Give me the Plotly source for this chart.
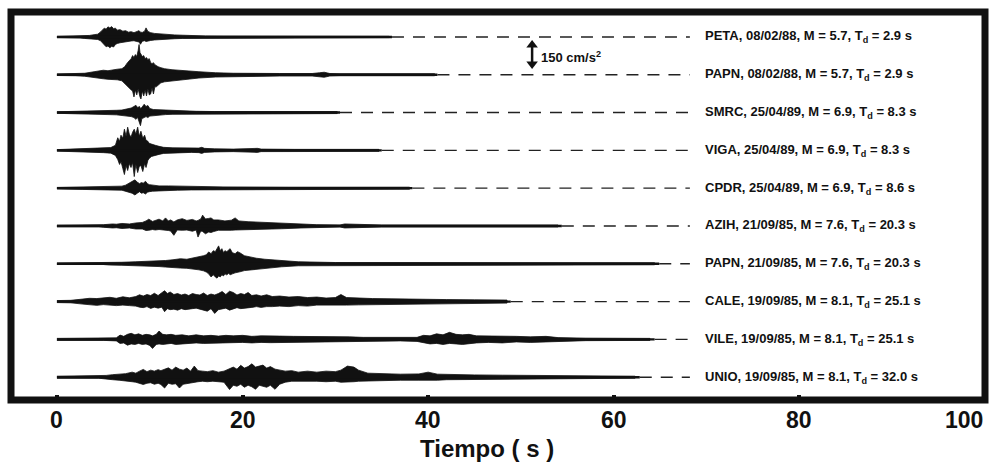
import plotly.graph_objects as go

# ---------------- data ----------------
stations = ["PETA", "PAPN", "SMRC", "VIGA", "CPDR", "AZIH", "PAPN", "CALE", "VILE", "UNIO"]
dates = ["08/02/88", "08/02/88", "25/04/89", "25/04/89", "25/04/89",
         "21/09/85", "21/09/85", "19/09/85", "19/09/85", "19/09/85"]
magnitudes = ["5.7", "5.7", "6.9", "6.9", "6.9", "7.6", "7.6", "8.1", "8.1", "8.1"]
durations = ["2.9", "2.9", "8.3", "8.3", "8.6", "20.3", "20.3", "25.1", "25.1", "32.0"]
record_end = [36.1, 41.0, 30.5, 35.0, 38.3, 54.4, 64.9, 48.9, 64.4, 62.8]  # s
dash_end = 68.2  # s
tick_values = [0, 20, 40, 60, 80, 100]
tick_labels = ["0", "20", "40", "60", "80", "100"]
scale_value = 150  # cm/s^2

# envelopes (time in s, upper / lower acceleration in cm/s^2)
peta_t = [0, 1.5, 2.5, 3.0, 3.5, 4.0, 4.4, 4.7, 4.9, 5.1, 5.3, 5.5, 5.7, 5.9, 6.1, 6.3, 6.5, 6.8, 7.1, 7.4,
          7.7, 8.0, 8.3, 8.6, 8.85, 9.0, 9.2, 9.45, 9.6, 9.8, 10.1, 10.5, 11.0, 11.5, 12.0, 12.7, 13.5, 14.5, 16, 18,
          22, 35.8]
peta_up = [4, 6, 8, 14, 12, 18, 22, 40, 58, 70, 62, 80, 72, 82, 66, 70, 54, 58, 46, 50,
           38, 42, 34, 40, 50, 38, 36, 46, 72, 44, 34, 28, 24, 20, 20, 16, 14, 10, 8, 7,
           6, 5]
peta_lo = [-4, -6, -8, -12, -14, -16, -20, -30, -44, -62, -78, -72, -86, -74, -80, -60, -52, -46, -42, -38,
           -34, -32, -30, -36, -40, -58, -34, -30, -36, -30, -28, -24, -22, -20, -16, -14, -12, -10, -8, -7,
           -6, -5]

papn88_t = [0, 2.0, 3.0, 4.0, 4.6, 5.0, 5.5, 6.0, 6.5, 7.0, 7.3, 7.6, 7.8, 8.0, 8.15, 8.3, 8.45, 8.6, 8.75, 8.85,
            8.95, 9.05, 9.2, 9.35, 9.5, 9.65, 9.8, 9.95, 10.1, 10.25, 10.4, 10.55, 10.7, 10.9, 11.2, 11.6, 12.4, 13.5,
            15.3, 17.1, 19, 24, 27.5, 28.3, 28.8, 29.4, 30.5, 40.7]
papn88_up = [6, 8, 12, 24, 28, 36, 32, 40, 44, 48, 64, 96, 112, 128, 152, 136, 160, 144, 192, 240,
             176, 160, 144, 152, 128, 136, 120, 128, 96, 88, 96, 80, 72, 64, 56, 48, 40, 36, 24, 16,
             12, 10, 10, 16, 20, 10, 8, 8]
papn88_lo = [-6, -8, -12, -24, -28, -32, -36, -40, -40, -48, -64, -96, -104, -120, -128, -176, -120, -160, -112, -144,
             -176, -192, -128, -168, -120, -168, -112, -160, -152, -104, -152, -96, -96, -88, -64, -56, -48, -40, -26, -18,
             -14, -10, -10, -16, -20, -10, -8, -8]

smrc_t = [0, 2.0, 2.8, 3.5, 4.5, 5.5, 6.4, 7.0, 7.6, 8.0, 8.3, 8.5, 8.7, 8.9, 9.0, 9.15, 9.4, 9.6, 9.8, 10.0,
          10.4, 11.0, 11.7, 12.5, 13.5, 15, 17, 20, 30.2]
smrc_up = [6, 8, 14, 12, 16, 14, 18, 20, 28, 36, 48, 58, 40, 48, 32, 40, 66, 48, 56, 32,
           24, 22, 16, 14, 10, 10, 8, 8, 8]
smrc_lo = [-6, -8, -12, -14, -14, -16, -18, -20, -28, -32, -40, -54, -40, -80, -104, -48, -40, -32, -40, -28,
           -24, -22, -16, -14, -10, -10, -8, -8, -8]

viga_t = [0, 2.1, 3.0, 4.0, 5.0, 5.8, 6.3, 6.55, 6.75, 6.9, 7.1, 7.27, 7.45, 7.62, 7.8, 7.98, 8.15, 8.33, 8.5, 8.7,
          8.87, 9.05, 9.25, 9.45, 9.6, 9.8, 9.93, 10.2, 10.6, 11.0, 11.5, 12.5, 13.5, 14.5, 15.3, 15.6, 15.9, 17, 19, 21.6,
          22, 25.6, 34.7]
viga_up = [6, 10, 14, 16, 18, 22, 40, 100, 72, 120, 96, 168, 112, 184, 128, 104, 144, 168, 128, 184,
           112, 152, 96, 120, 80, 72, 56, 48, 40, 32, 24, 20, 18, 16, 18, 24, 16, 12, 10, 16,
           10, 8, 8]
viga_lo = [-6, -10, -14, -16, -18, -22, -40, -72, -112, -88, -144, -192, -120, -160, -104, -136, -96, -208, -112, -176,
           -128, -120, -168, -104, -136, -80, -64, -48, -40, -32, -24, -20, -18, -16, -18, -24, -16, -12, -10, -16,
           -10, -8, -8]

cpdr_t = [0, 2.8, 4.0, 5.5, 7.0, 7.4, 7.8, 8.1, 8.4, 8.65, 8.9, 9.1, 9.3, 9.55, 9.75, 9.95, 10.3, 11.0, 12.0, 13.0,
          14.5, 15.6, 18, 25, 38.0]
cpdr_up = [6, 10, 14, 14, 16, 24, 40, 48, 66, 48, 36, 44, 40, 54, 36, 28, 24, 18, 18, 16,
           14, 12, 10, 8, 8]
cpdr_lo = [-6, -10, -14, -14, -16, -24, -34, -40, -54, -40, -28, -40, -36, -46, -32, -28, -24, -18, -18, -16,
           -14, -12, -10, -8, -8]

azih_t = [0, 4.5, 5.0, 6.0, 6.4, 7.0, 7.8, 8.5, 9.2, 9.6, 9.9, 10.3, 10.6, 11.0, 11.4, 11.7, 12.0, 12.25, 12.6, 12.96,
          13.5, 14.0, 14.6, 15.0, 15.2, 15.5, 15.7, 16.0, 16.35, 16.6, 16.9, 17.4, 18.1, 18.8, 19.2, 19.6, 20.6, 21.5,
          22.4, 24.2, 26.3, 28, 30.5, 31, 35, 54.0]
azih_up = [6, 6, 10, 16, 14, 20, 16, 24, 28, 40, 54, 36, 44, 54, 40, 64, 40, 48, 32, 48,
           58, 44, 52, 40, 44, 56, 86, 56, 60, 64, 48, 48, 40, 46, 64, 40, 34, 32, 28, 24,
           16, 10, 8, 16, 8, 8]
azih_lo = [-6, -6, -10, -16, -14, -20, -16, -24, -24, -36, -34, -28, -32, -28, -34, -32, -36, -40, -74, -32,
           -34, -32, -42, -32, -88, -40, -44, -62, -48, -52, -44, -34, -32, -34, -32, -32, -26, -24, -24, -22,
           -16, -10, -8, -16, -8, -8]

papn85_t = [0, 5.0, 5.7, 7.0, 8.5, 10.0, 11.0, 11.7, 12.5, 13.3, 14.0, 14.6, 15.3, 15.8, 16.1, 16.35, 16.6, 16.85,
            17.06, 17.25, 17.42, 17.6, 17.77, 17.95, 18.1, 18.3, 18.5, 18.66, 18.9, 19.2, 19.45, 19.7, 20.2, 20.8,
            21.5, 22.4, 23.2, 24.2, 26, 30, 64.4]
papn85_up = [6, 6, 10, 12, 16, 18, 22, 26, 32, 40, 36, 44, 52, 64, 72, 94, 80, 104, 96, 120,
             142, 104, 120, 88, 104, 96, 112, 120, 88, 80, 96, 88, 64, 54, 44, 36, 32, 24, 16, 10,
             8]
papn85_lo = [-6, -6, -10, -12, -16, -18, -22, -26, -32, -34, -36, -40, -48, -56, -66, -80, -104, -88, -104, -114,
             -96, -104, -88, -96, -80, -88, -76, -88, -80, -72, -66, -64, -54, -48, -40, -34, -32, -24, -16, -10,
             -8]

cale_t = [0, 1.5, 2.8, 3.5, 4.3, 5.0, 5.7, 6.4, 7.1, 7.8, 8.5, 8.9, 9.3, 9.7, 10.1, 10.5, 10.9, 11.3, 11.6, 11.9,
          12.2, 12.6, 13.0, 13.4, 13.8, 14.2, 14.6, 15.0, 15.4, 15.8, 16.2, 16.6, 17.0, 17.4, 17.8, 18.2, 18.6, 19.0,
          19.4, 19.8, 20.2, 20.6, 21.0, 21.5, 22.0, 22.6, 23.2, 24.0, 25.0, 26.0, 27.0, 28.0, 29.0, 30.0, 30.6, 31.2,
          32.5, 34, 36, 38, 42, 45, 48.5]
cale_up = [8, 10, 20, 26, 24, 30, 34, 26, 38, 30, 40, 54, 44, 56, 48, 66, 48, 70, 86, 64,
           76, 56, 64, 52, 60, 48, 64, 56, 52, 68, 48, 60, 52, 64, 80, 56, 82, 72, 52, 64,
           56, 72, 48, 54, 44, 54, 40, 44, 36, 40, 32, 36, 28, 32, 56, 32, 26, 24, 22, 18,
           16, 14, 12]
cale_lo = [-8, -10, -20, -26, -30, -24, -28, -32, -28, -32, -36, -44, -48, -40, -54, -44, -52, -44, -80, -56,
           -64, -60, -68, -56, -64, -60, -56, -52, -60, -68, -76, -56, -94, -64, -56, -52, -68, -56, -48, -56,
           -54, -48, -46, -40, -46, -40, -40, -36, -40, -32, -36, -28, -32, -28, -28, -28, -26, -24, -22, -18,
           -16, -14, -12]

vile_t = [0, 5.0, 6.4, 6.8, 7.2, 7.6, 8.0, 8.4, 8.8, 9.2, 9.6, 10.0, 10.3, 10.7, 11.0, 11.4, 11.8, 12.3, 12.8, 13.5,
          14.2, 15.0, 15.8, 16.6, 17.4, 18.2, 19.0, 20.0, 21.0, 22.0, 23.0, 24.0, 25.5, 27.0, 28.5, 30.0, 31.5, 33,
          35, 37, 38.8, 39.5, 40.2, 40.9, 41.6, 42.3, 43.0, 43.7, 44.4, 45.2, 46.5, 48, 49.5, 51, 52.7, 54, 57, 63.9]
vile_up = [8, 8, 12, 34, 24, 40, 48, 36, 44, 32, 40, 36, 28, 40, 66, 40, 36, 40, 32, 36,
           28, 36, 28, 32, 26, 32, 28, 32, 24, 28, 24, 26, 24, 24, 20, 24, 20, 16, 14, 12,
           16, 32, 28, 44, 36, 56, 40, 36, 40, 28, 28, 24, 24, 20, 24, 14, 10, 8]
vile_lo = [-8, -8, -12, -32, -28, -46, -36, -40, -32, -40, -36, -48, -72, -40, -36, -40, -36, -32, -40, -32,
           -32, -28, -32, -28, -32, -28, -26, -24, -28, -24, -26, -24, -24, -22, -24, -20, -20, -16, -14, -12,
           -16, -28, -36, -32, -40, -32, -36, -40, -32, -28, -24, -28, -20, -24, -20, -14, -10, -8]

unio_t = [0, 4.5, 5.3, 6.0, 6.7, 7.4, 8.1, 8.5, 8.9, 9.3, 9.7, 10.1, 10.5, 10.9, 11.2, 11.6, 12.0, 12.4, 12.8, 13.2,
          13.6, 14.0, 14.4, 14.8, 15.2, 15.7, 16.2, 16.8, 17.4, 18.0, 18.6, 19.0, 19.4, 19.8, 20.2, 20.6, 21.0, 21.4,
          21.8, 22.2, 22.6, 23.0, 23.5, 24.0, 24.6, 25.3, 26.0, 27.0, 28.0, 29.0, 30.0, 30.6, 31.3, 32.0, 32.5, 33.5,
          35, 37, 39, 40, 41, 42, 45, 48, 53, 62.3]
unio_up = [8, 8, 14, 20, 24, 28, 40, 32, 48, 62, 44, 56, 48, 60, 52, 64, 74, 56, 80, 64,
           56, 72, 48, 88, 52, 48, 44, 52, 40, 48, 64, 80, 64, 94, 72, 84, 106, 80, 88, 96,
           72, 84, 64, 56, 48, 52, 40, 48, 40, 48, 44, 56, 88, 80, 56, 32, 26, 24, 26, 40,
           24, 24, 18, 16, 12, 8]
unio_lo = [-8, -8, -14, -20, -24, -28, -36, -40, -48, -58, -48, -44, -56, -48, -58, -86, -48, -56, -52, -86,
           -56, -48, -44, -40, -36, -32, -36, -32, -36, -40, -98, -64, -72, -56, -80, -64, -76, -96, -64, -72,
           -80, -64, -96, -56, -40, -32, -36, -32, -32, -36, -32, -40, -40, -36, -32, -26, -26, -24, -24, -26,
           -24, -20, -18, -16, -12, -8]

env_t = [peta_t, papn88_t, smrc_t, viga_t, cpdr_t, azih_t, papn85_t, cale_t, vile_t, unio_t]
env_up = [peta_up, papn88_up, smrc_up, viga_up, cpdr_up, azih_up, papn85_up, cale_up, vile_up, unio_up]
env_lo = [peta_lo, papn88_lo, smrc_lo, viga_lo, cpdr_lo, azih_lo, papn85_lo, cale_lo, vile_lo, unio_lo]

# ---------------- layout constants ----------------
SPACING = 300.0          # cm/s^2 between trace baselines
X_RANGE = [-4.95, 100]
Y_RANGE = [-2881, 198]
INK = "#111111"
LABEL_X = 69.6
SCALE_X = 51.2
SCALE_MID = -139.0
SANS = "Liberation Sans, Arial, sans-serif"

fig = go.Figure()

for i in range(len(stations)):
    base = -SPACING * i
    t, up, lo = env_t[i], env_up[i], env_lo[i]
    n = min(len(t), len(up), len(lo))
    t, up, lo = t[:n], up[:n], lo[:n]
    xs = list(t) + list(reversed(t))
    ys = [base + u for u in up] + [base + v for v in reversed(lo)]
    fig.add_trace(go.Scatter(x=xs, y=ys, mode="lines", fill="toself", fillcolor=INK,
                             line=dict(color=INK, width=0.8), hoverinfo="skip", showlegend=False))
    fig.add_trace(go.Scatter(x=[0, record_end[i]], y=[base, base], mode="lines",
                             line=dict(color=INK, width=2.4), hoverinfo="skip", showlegend=False))
    fig.add_trace(go.Scatter(x=[record_end[i], dash_end], y=[base, base], mode="lines",
                             line=dict(color="#222222", width=1.4, dash="12px,9px"),
                             hoverinfo="skip", showlegend=False))
    fig.add_annotation(x=LABEL_X, y=base, xref="x", yref="y", xanchor="left", yanchor="middle",
                       text=f"{stations[i]}, {dates[i]}, M = {magnitudes[i]}, T<sub>d</sub> = {durations[i]} s",
                       showarrow=False, font=dict(family=SANS, size=13, color=INK, weight="bold"))

# scale bar
fig.add_trace(go.Scatter(x=[SCALE_X, SCALE_X], y=[SCALE_MID - scale_value / 2, SCALE_MID + scale_value / 2],
                         mode="lines+markers", line=dict(color=INK, width=2.5),
                         marker=dict(symbol=["triangle-down", "triangle-up"], size=10, color=INK),
                         hoverinfo="skip", showlegend=False))
fig.add_annotation(x=SCALE_X + 0.7, y=SCALE_MID - 18, xref="x", yref="y", xanchor="left", yanchor="middle",
                   text=f"{scale_value} cm/s<sup>2</sup>", showarrow=False,
                   font=dict(family=SANS, size=13, color=INK, weight="bold"))

# tick labels
for v, lab in zip(tick_values, tick_labels):
    fig.add_annotation(x=v, y=0, xref="x", yref="paper", yanchor="top",
                       xanchor="right" if v == tick_values[-1] else "center",
                       yshift=-5, text=lab, showarrow=False,
                       font=dict(family=SANS, size=23, color=INK, weight="bold"))

fig.add_annotation(x=46.3, y=0, xref="x", yref="paper", yanchor="top", yshift=-33,
                   text="Tiempo ( s )", showarrow=False,
                   font=dict(family=SANS, size=24, color=INK, weight="bold"))

# frame
fig.add_shape(type="rect", xref="paper", yref="paper", x0=0, x1=1, y0=0, y1=1,
              line=dict(color=INK, width=7))

fig.update_xaxes(range=X_RANGE, tickvals=tick_values, showticklabels=False, ticks="inside",
                 ticklen=5, tickwidth=4, tickcolor=INK, showgrid=False, zeroline=False, showline=False)
fig.update_yaxes(range=Y_RANGE, visible=False, showgrid=False, zeroline=False)

fig.update_layout(width=994, height=466, margin=dict(l=11, r=9, t=12, b=66),
                  plot_bgcolor="white", paper_bgcolor="white", showlegend=False)

fig.write_html("out.html")
